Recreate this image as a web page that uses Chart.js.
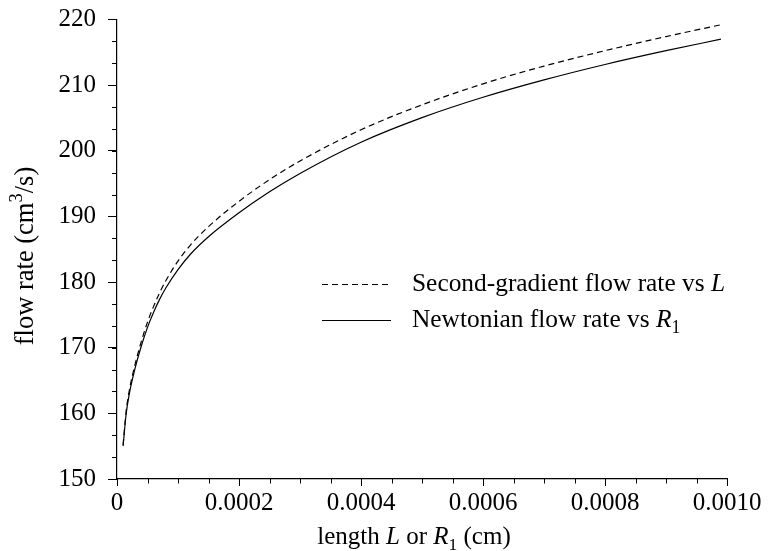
<!DOCTYPE html>
<html>
<head>
<meta charset="utf-8">
<script src="https://cdn.jsdelivr.net/npm/chart.js@4/dist/chart.umd.min.js"></script>
<style>
	html, body { margin: 0; padding: 0; background: #fff; }
	#box { width: 778px; height: 551px; }
</style>
</head>
<body>
<div id="box"><canvas id="chart"></canvas></div>
<script>
/* Length L (or radius R1) in cm. */
const lengthCm = [
	0.00001, 0.000015, 0.00002, 0.00003, 0.00004, 0.00005, 0.00006,
	0.00007, 0.00008, 0.0001, 0.00012, 0.00015, 0.0002, 0.00025,
	0.0003, 0.0004, 0.0005, 0.0006, 0.0007, 0.0008, 0.0009, 0.00099,
];

/* Second-gradient flow rate (cm^3/s), dashed curve. */
const secondGradient = [
	155.2, 160.3, 163.4, 167.6, 171.0, 173.9, 176.3,
	178.4, 180.2, 183.2, 185.6, 188.45, 192.3, 195.6,
	198.45, 203.2, 207.0, 210.2, 212.9, 215.25, 217.4, 219.2,
];

/* Newtonian flow rate (cm^3/s), solid curve. */
const newtonian = [
	155.0, 159.9, 162.9, 167.0, 170.3, 173.1, 175.4,
	177.4, 179.1, 181.9, 184.2, 186.9, 190.55, 193.75,
	196.55, 201.3, 205.05, 208.15, 210.8, 213.15, 215.25, 217.0,
];

/* Labelled ticks on both axes. */
const xMajor = [0, 0.0002, 0.0004, 0.0006, 0.0008, 0.0010];
const yMajor = [150, 160, 170, 180, 190, 200, 210, 220];
const xMinorStep = 0.00005;
const yMinorStep = 10 / 3;

const FONT = '"Liberation Serif", "Times New Roman", serif';
const SIZE = 25;
const DASH = [6, 4];

/*
 * Draw a run of text parts (plain, italic, sub- or superscript) starting at
 * x with the baseline at y.  Returns the width drawn.
 */
function drawParts(ctx, parts, x, y, size = SIZE, measureOnly = false)
{
	let w = 0;
	for (const p of parts) {
		const fs = (p.sub || p.sup) ? size * 0.7 : size;
		ctx.font = (p.it ? 'italic ' : '') + fs + 'px ' + FONT;
		const dy = p.sub ? size * 0.22 : p.sup ? -size * 0.42 : 0;
		if (!measureOnly)
			ctx.fillText(p.t, x + w, y + dy);
		w += ctx.measureText(p.t).width;
	}
	return w;
}

function drawCentred(ctx, parts, cx, y, size = SIZE)
{
	const w = drawParts(ctx, parts, 0, 0, size, true);
	drawParts(ctx, parts, cx - w / 2, y, size);
}

const decorations = {
	id: 'decorations',
	afterDraw(chart) {
		const ctx = chart.ctx;
		const xs = chart.scales.x;
		const ys = chart.scales.y;
		const area = chart.chartArea;

		ctx.save();
		ctx.strokeStyle = '#000';
		ctx.lineWidth = 1;

		/* Minor ticks, pointing outwards. */

		ctx.beginPath();
		for (let v = 0; v <= 0.001 + 1e-12; v += xMinorStep) {
			const px = Math.round(xs.getPixelForValue(v)) + 0.5;
			ctx.moveTo(px, area.bottom);
			ctx.lineTo(px, area.bottom + 4.5);
		}
		for (let v = 150; v <= 220 + 1e-9; v += yMinorStep) {
			const py = Math.round(ys.getPixelForValue(v)) + 0.5;
			ctx.moveTo(area.left, py);
			ctx.lineTo(area.left - 5, py);
		}
		ctx.stroke();

		ctx.fillStyle = '#000';
		ctx.textBaseline = 'alphabetic';

		/* Axis titles. */

		drawCentred(ctx, [
			{ t: 'length ' }, { t: 'L', it: true }, { t: ' or ' },
			{ t: 'R', it: true }, { t: '1', sub: true }, { t: ' (cm)' },
		], (area.left + area.right) / 2 - 8, 544);

		ctx.translate(33, 256);
		ctx.rotate(-Math.PI / 2);
		drawCentred(ctx, [
			{ t: 'flow rate (cm' }, { t: '3', sup: true }, { t: '/s)' },
		], 0, 0, 26.5);
		ctx.setTransform(1, 0, 0, 1, 0, 0);

		/* Legend. */

		const rows = [
			{ dash: DASH, y: 284, parts: [
				{ t: 'Second-gradient flow rate vs ' }, { t: 'L', it: true },
			] },
			{ dash: [], y: 320, parts: [
				{ t: 'Newtonian flow rate vs ' }, { t: 'R', it: true },
				{ t: '1', sub: true },
			] },
		];
		for (const row of rows) {
			ctx.beginPath();
			ctx.setLineDash(row.dash);
			ctx.lineWidth = 1.2;
			ctx.moveTo(322, row.y + 0.5);
			ctx.lineTo(391, row.y + 0.5);
			ctx.stroke();
			ctx.setLineDash([]);
			drawParts(ctx, row.parts, 412, row.y + 7, 25.4);
		}
		ctx.restore();
	},
};

const tickFont = { family: FONT, size: SIZE };

new Chart(document.getElementById('chart'), {
	type: 'line',
	data: {
		datasets: [{
			label: 'Second-gradient flow rate vs L',
			data: lengthCm.map((x, i) => ({ x: x, y: secondGradient[i] })),
			borderColor: '#000',
			borderWidth: 1.2,
			borderDash: DASH,
			pointRadius: 0,
			cubicInterpolationMode: 'monotone',
		}, {
			label: 'Newtonian flow rate vs R1',
			data: lengthCm.map((x, i) => ({ x: x, y: newtonian[i] })),
			borderColor: '#000',
			borderWidth: 1.2,
			pointRadius: 0,
			cubicInterpolationMode: 'monotone',
		}],
	},
	options: {
		responsive: true,
		maintainAspectRatio: false,
		animation: false,
		devicePixelRatio: 1,
		layout: {
			padding: { top: 19.5, right: 51, left: 0, bottom: 0 },
		},
		plugins: {
			legend: { display: false },
			tooltip: { enabled: false },
		},
		scales: {
			x: {
				type: 'linear',
				min: 0,
				max: 0.001,
				afterBuildTicks: (scale) => {
					scale.ticks = xMajor.map(v => ({ value: v }));
				},
				afterFit: (scale) => { scale.height = 72; },
				border: { display: true, color: '#000', width: 1.2 },
				grid: {
					drawOnChartArea: false,
					drawTicks: true,
					tickLength: 7,
					tickColor: '#000',
				},
				ticks: {
					color: '#000',
					font: tickFont,
					padding: 2,
					maxRotation: 0,
					callback: (v) => v === 0 ? '0' : Number(v).toFixed(4),
				},
			},
			y: {
				type: 'linear',
				min: 150,
				max: 220,
				afterBuildTicks: (scale) => {
					scale.ticks = yMajor.map(v => ({ value: v }));
				},
				afterFit: (scale) => {
					scale.width = 117;
					scale.paddingTop = 0;
					scale.paddingBottom = 0;
				},
				border: { display: true, color: '#000', width: 1.2 },
				grid: {
					drawOnChartArea: false,
					drawTicks: true,
					tickLength: 9,
					tickColor: '#000',
				},
				ticks: {
					color: '#000',
					font: tickFont,
					padding: 12,
					callback: (v) => String(v),
				},
			},
		},
	},
	plugins: [decorations],
});
</script>
</body>
</html>
